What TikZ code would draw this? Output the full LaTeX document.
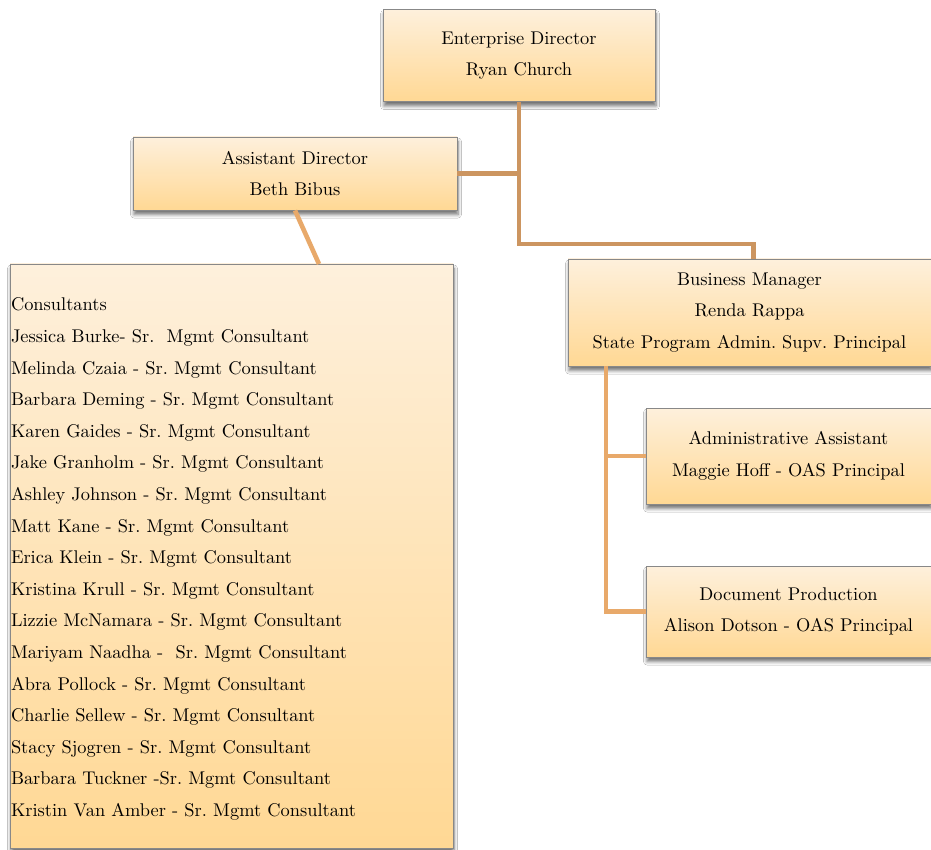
\documentclass[tikz,border=0pt]{standalone}
\usepackage{fontspec}
\setmainfont{lmroman10-regular.otf}
\usetikzlibrary{shadows.blur}
\definecolor{boxtop}{HTML}{FEF0DC}
\definecolor{boxbot}{HTML}{FFD894}
\definecolor{boxline}{HTML}{888888}
\definecolor{linkdark}{HTML}{CC9560}
\definecolor{linklight}{HTML}{E8A96A}
\frenchspacing
\tikzset{
  orgbox/.style={draw=boxline, line width=0.9pt, top color=boxtop, bottom color=boxbot,
    rectangle, inner sep=1pt, align=center,
    font=\fontsize{18.4}{31.6}\selectfont,
    blur shadow={shadow xshift=1pt, shadow yshift=-4.5pt, shadow blur radius=3.5pt,
      shadow blur steps=6, shadow opacity=55}},
  linkA/.style={draw=linkdark, line width=4.6pt},
  linkB/.style={draw=linklight, line width=4.6pt},
}
\begin{document}
\begin{tikzpicture}[x=1pt,y=-1pt]
  \path[fill=white] (0,0) rectangle (931,850);
  \useasboundingbox (0,0) rectangle (931,850);

  \coordinate (edturn) at (519,244);
  \coordinate (consin) at (319,264);

  % boxes
  \node[orgbox, minimum width=272pt, minimum height=92pt] (ed) at (519,55.5)
    {Enterprise Director\\Ryan Church};
  \node[orgbox, minimum width=324pt, minimum height=73pt] (ad) at (295,173.5)
    {Assistant Director\\Beth Bibus};
  \node[orgbox, minimum width=363pt, minimum height=107pt] (bm) at (749.5,312.5)
    {Business Manager\\Renda Rappa\\State Program Admin. Supv. Principal};
  \node[orgbox, minimum width=285pt, minimum height=96pt] (adm) at (788.5,456)
    {Administrative Assistant\\Maggie Hoff - OAS Principal};
  \node[orgbox, minimum width=285pt, minimum height=91pt] (doc) at (788.5,611.5)
    {Document Production\\Alison Dotson - OAS Principal};
  \node[orgbox, minimum height=584pt, text width=441pt, align=left] (cons) at (231.5,556)
    {\rule{0pt}{19pt}Consultants\\
     Jessica Burke- Sr.\ \ Mgmt Consultant\\
     Melinda Czaia - Sr. Mgmt Consultant\\
     Barbara Deming - Sr. Mgmt Consultant\\
     Karen Gaides - Sr. Mgmt Consultant\\
     Jake Granholm - Sr. Mgmt Consultant\\
     Ashley Johnson - Sr. Mgmt Consultant\\
     Matt Kane - Sr. Mgmt Consultant\\
     Erica Klein - Sr. Mgmt Consultant\\
     Kristina Krull - Sr. Mgmt Consultant\\
     Lizzie McNamara - Sr. Mgmt Consultant\\
     Mariyam Naadha -\ \ Sr. Mgmt Consultant\\
     Abra Pollock - Sr. Mgmt Consultant\\
     Charlie Sellew - Sr. Mgmt Consultant\\
     Stacy Sjogren - Sr. Mgmt Consultant\\
     Barbara Tuckner -Sr. Mgmt Consultant\\
     Kristin Van Amber - Sr. Mgmt Consultant};

  % connectors between boxes
  \draw[linkA] (ed.south) -- (edturn) -| ([xshift=4pt]bm.north);
  \draw[linkA] (ad.east) -- (ad.east -| ed.south);
  \draw[linkB] (ad.south) -- (consin);
  \draw[linkB] (bm.south -| 606,0) |- (adm.west);
  \draw[linkB] (bm.south -| 606,0) |- (doc.west);
\end{tikzpicture}
\end{document}
